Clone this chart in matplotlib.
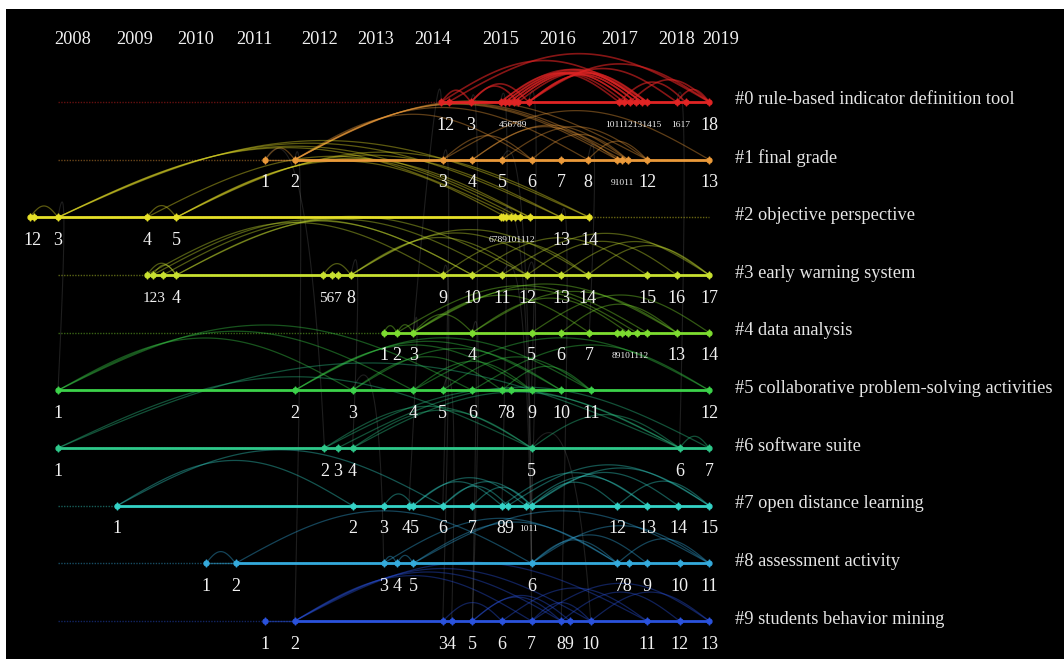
import numpy as np
import matplotlib
matplotlib.use("Agg")
import matplotlib.pyplot as plt

# ---------------- data ----------------
years = ["2008", "2009", "2010", "2011", "2012", "2013", "2014",
         "2015", "2016", "2017", "2018", "2019"]
year_slice = [0.5, 2.6, 4.66, 6.62, 8.85, 10.74, 12.67, 14.97, 16.89, 18.99, 20.91, 22.4]

cluster_names = [
    "#0 rule-based indicator definition tool",
    "#1 final grade",
    "#2 objective perspective",
    "#3 early warning system",
    "#4 data analysis",
    "#5 collaborative problem-solving activities",
    "#6 software suite",
    "#7 open distance learning",
    "#8 assessment activity",
    "#9 students behavior mining",
]

# node positions (time slice) per cluster
nodes_0 = [12.95, 13.2, 13.95, 14.95, 15.1, 15.25, 15.4, 15.55, 15.9, 18.95, 19.12,
           19.32, 19.52, 19.72, 19.9, 20.9, 21.2, 22.0]
nodes_1 = [7.0, 8.0, 13.0, 14.0, 15.0, 16.0, 17.0, 17.9, 18.9, 19.05, 19.25, 19.9, 22.0]
nodes_2 = [-0.95, -0.8, 0.0, 3.0, 4.0, 14.95, 15.05, 15.15, 15.3, 15.45, 15.6, 15.95,
           17.0, 17.95]
nodes_3 = [3.0, 3.2, 3.55, 4.0, 8.95, 9.25, 9.45, 9.9, 13.0, 14.0, 15.0, 15.85, 17.0,
           17.9, 19.9, 20.9, 22.0]
nodes_4 = [11.0, 11.45, 12.0, 14.0, 16.0, 17.0, 17.95, 18.9, 19.05, 19.25, 19.55, 19.9,
           20.9, 22.0]
nodes_5 = [0.0, 8.0, 9.95, 12.0, 13.0, 14.0, 15.0, 15.3, 16.0, 17.0, 18.0, 22.0]
nodes_6 = [0.0, 9.0, 9.45, 9.95, 16.0, 21.0, 22.0]
nodes_7 = [2.0, 9.95, 11.0, 11.85, 12.0, 13.0, 14.0, 15.0, 15.2, 15.8, 16.0, 18.9,
           19.9, 20.95, 22.0]
nodes_8 = [5.0, 6.0, 11.0, 11.45, 12.0, 16.0, 18.9, 19.3, 19.9, 21.0, 22.0]
nodes_9 = [7.0, 8.0, 13.0, 13.3, 14.0, 15.0, 16.0, 17.0, 17.3, 18.0, 19.9, 21.0, 22.0]
nodes = [nodes_0, nodes_1, nodes_2, nodes_3, nodes_4, nodes_5, nodes_6, nodes_7,
         nodes_8, nodes_9]

# index of node where the active (bright) timeline begins
active_start = [0, 1, 0, 0, 0, 0, 0, 0, 1, 1]

# within-cluster links (1-based node numbers)
links_0 = [(1, 3), (3, 9), (4, 10), (5, 11), (6, 12), (7, 13), (8, 14), (9, 15), (5, 15),
           (6, 14), (9, 13), (9, 16), (9, 18), (10, 17), (3, 8), (2, 18), (1, 15),
           (12, 18), (16, 18), (4, 14), (7, 12)]
links_1 = [(2, 10), (2, 12), (2, 9), (2, 8), (3, 13), (4, 11), (4, 9), (5, 12), (6, 11),
           (2, 6), (3, 6), (8, 12), (1, 2), (2, 11)]
links_2 = [(1, 3), (4, 5), (3, 12), (3, 13), (5, 12), (5, 14), (3, 10), (5, 8), (4, 11),
           (3, 14), (5, 13)]
links_3 = [(1, 4), (2, 4), (1, 9), (3, 10), (4, 11), (4, 12), (8, 12), (8, 13), (8, 14),
           (9, 14), (11, 17), (12, 16), (10, 15), (13, 17), (14, 17), (5, 8), (2, 10)]
links_4 = [(1, 2), (2, 3), (3, 4), (3, 13), (4, 13), (3, 11), (4, 10), (5, 14), (6, 13),
           (3, 7), (2, 12)]
links_5 = [(1, 3), (1, 4), (2, 11), (2, 9), (2, 10), (3, 10), (4, 9), (5, 11), (6, 12),
           (7, 11), (3, 7), (4, 12), (1, 6)]
links_6 = [(1, 5), (1, 6), (2, 6), (2, 5), (3, 7), (4, 6), (5, 6), (6, 7), (4, 5)]
links_7 = [(1, 2), (1, 6), (3, 5), (5, 8), (5, 10), (6, 9), (7, 11), (11, 15), (11, 14),
           (10, 13), (9, 15), (11, 12), (8, 13), (6, 11), (12, 15)]
links_8 = [(1, 2), (2, 6), (3, 4), (4, 5), (5, 7), (6, 7), (6, 9), (5, 11), (7, 11),
           (6, 11), (3, 7)]
links_9 = [(2, 8), (2, 10), (2, 7), (3, 6), (5, 9), (6, 11), (7, 10), (7, 13), (8, 12),
           (10, 13), (5, 8), (2, 11)]
links = [links_0, links_1, links_2, links_3, links_4, links_5, links_6, links_7,
         links_8, links_9]

# between-cluster links: (cluster_a, node_a, cluster_b, node_b)
cross_links = [(1, 2, 9, 2), (0, 3, 9, 5), (3, 9, 9, 3), (0, 4, 7, 8), (5, 3, 8, 3),
               (1, 1, 6, 2), (2, 6, 8, 6), (3, 11, 9, 7), (4, 3, 7, 4), (0, 9, 5, 9),
               (1, 3, 7, 6), (2, 13, 9, 8), (4, 4, 9, 5), (3, 8, 6, 4), (5, 5, 9, 4),
               (0, 1, 4, 3), (1, 5, 8, 6), (6, 5, 9, 10), (2, 3, 5, 1), (3, 12, 7, 11),
               (1, 8, 4, 7), (0, 16, 6, 6)]

colors = ["#e02424", "#eb9a3a", "#e6e028", "#c8e030", "#7ddc30",
          "#3cd24a", "#2ec88a", "#34d2c6", "#34aadc", "#2a52dc"]

# ---------------- figure ----------------
W, H = 1064, 659
fig = plt.figure(figsize=(W / 100, H / 100), dpi=100, facecolor="white")
ax = fig.add_axes([6 / W, 0, 1 - 6 / W, 650 / H])
ax.set_facecolor("black")
for sp in ax.spines.values():
    sp.set_visible(False)
ax.set_xticks([])
ax.set_yticks([])

PX_SLICE = 29.6   # pixels per slice
PX_ROW = 57.67    # pixels per row
X0 = 58.0
Y0 = 102.0
ax.set_xlim((6 - X0) / PX_SLICE, (W - X0) / PX_SLICE)
ax.set_ylim((H - Y0) / PX_ROW, (9 - Y0) / PX_ROW)

serif = ["Liberation Serif", "DejaVu Serif"]


def arc(x1, x2, row, color, alpha, lw):
    span_px = abs(x2 - x1) * PX_SLICE
    h = 1.3 * span_px ** 0.65 / PX_ROW
    t = np.linspace(0, 1, 80)
    xs = x1 + (x2 - x1) * t
    ys = row - h * np.sin(np.pi * t)
    ax.plot(xs, ys, color=color, alpha=alpha, lw=lw, solid_capstyle="round", zorder=2)


# cross-cluster faint links
for ca, na, cb, nb in cross_links:
    xa, xb = nodes[ca][na - 1], nodes[cb][nb - 1]
    t = np.linspace(0, 1, 80)
    cx = (xa + xb) / 2 + 0.4
    cy = ca - 1.2
    xs = (1 - t) ** 2 * xa + 2 * (1 - t) * t * cx + t ** 2 * xb
    ys = (1 - t) ** 2 * ca + 2 * (1 - t) * t * cy + t ** 2 * cb
    ax.plot(xs, ys, color="#bdbdbd", alpha=0.16, lw=0.8, zorder=1)

for r, (ns, col) in enumerate(zip(nodes, colors)):
    # base (inactive) timeline
    ax.plot([0, 22], [r, r], color=col, alpha=0.45, lw=1.0,
            linestyle=(0, (1, 1)), zorder=2)
    # active timeline
    a0 = ns[active_start[r]]
    ax.plot([a0, ns[-1]], [r, r], color=col, lw=2.0, zorder=3)
    if active_start[r] > 0:
        ax.plot([ns[0], a0], [r, r], color=col, alpha=0.5, lw=1.0, zorder=3)
    # arcs
    alpha_arc = 0.6 if r == 0 else 0.4
    lw_arc = 1.2 if r == 0 else 0.9
    for i, j in links[r]:
        arc(ns[i - 1], ns[j - 1], r, col, alpha_arc, lw_arc)
    # nodes
    ax.plot(ns, [r] * len(ns), "o", color=col, ms=3.5, zorder=4)
    ax.plot(ns, [r] * len(ns), "|", color=col, ms=6, mew=1.0, zorder=4)

    # numeric labels, grouped when nodes are close
    groups = [[0]]
    for k in range(1, len(ns)):
        if ns[k] - ns[k - 1] < 0.42:
            groups[-1].append(k)
        else:
            groups.append([k])
    for g in groups:
        txt = "".join(str(k + 1) for k in g)
        xc = float(np.mean([ns[k] for k in g]))
        if len(txt) <= 2:
            fs = 13
        elif len(txt) <= 3:
            fs = 11
        else:
            fs = 6.8
        ax.text(xc, r + 23 / PX_ROW, txt, color="#f2f2f2", fontsize=fs,
                family=serif, ha="center", va="center", zorder=5)

    # cluster name
    ax.text((735 - X0) / PX_SLICE, r - 2 / PX_ROW, cluster_names[r], color="#e6e6e6",
            fontsize=13.2, family=serif, ha="left", va="center", zorder=5)

# year labels
for y, s in zip(years, year_slice):
    ax.text(s, (40 - Y0) / PX_ROW, y, color="#f0f0f0", fontsize=13.2, family=serif,
            ha="center", va="center", zorder=5)

fig.savefig("out.png", dpi=100, facecolor="white")
